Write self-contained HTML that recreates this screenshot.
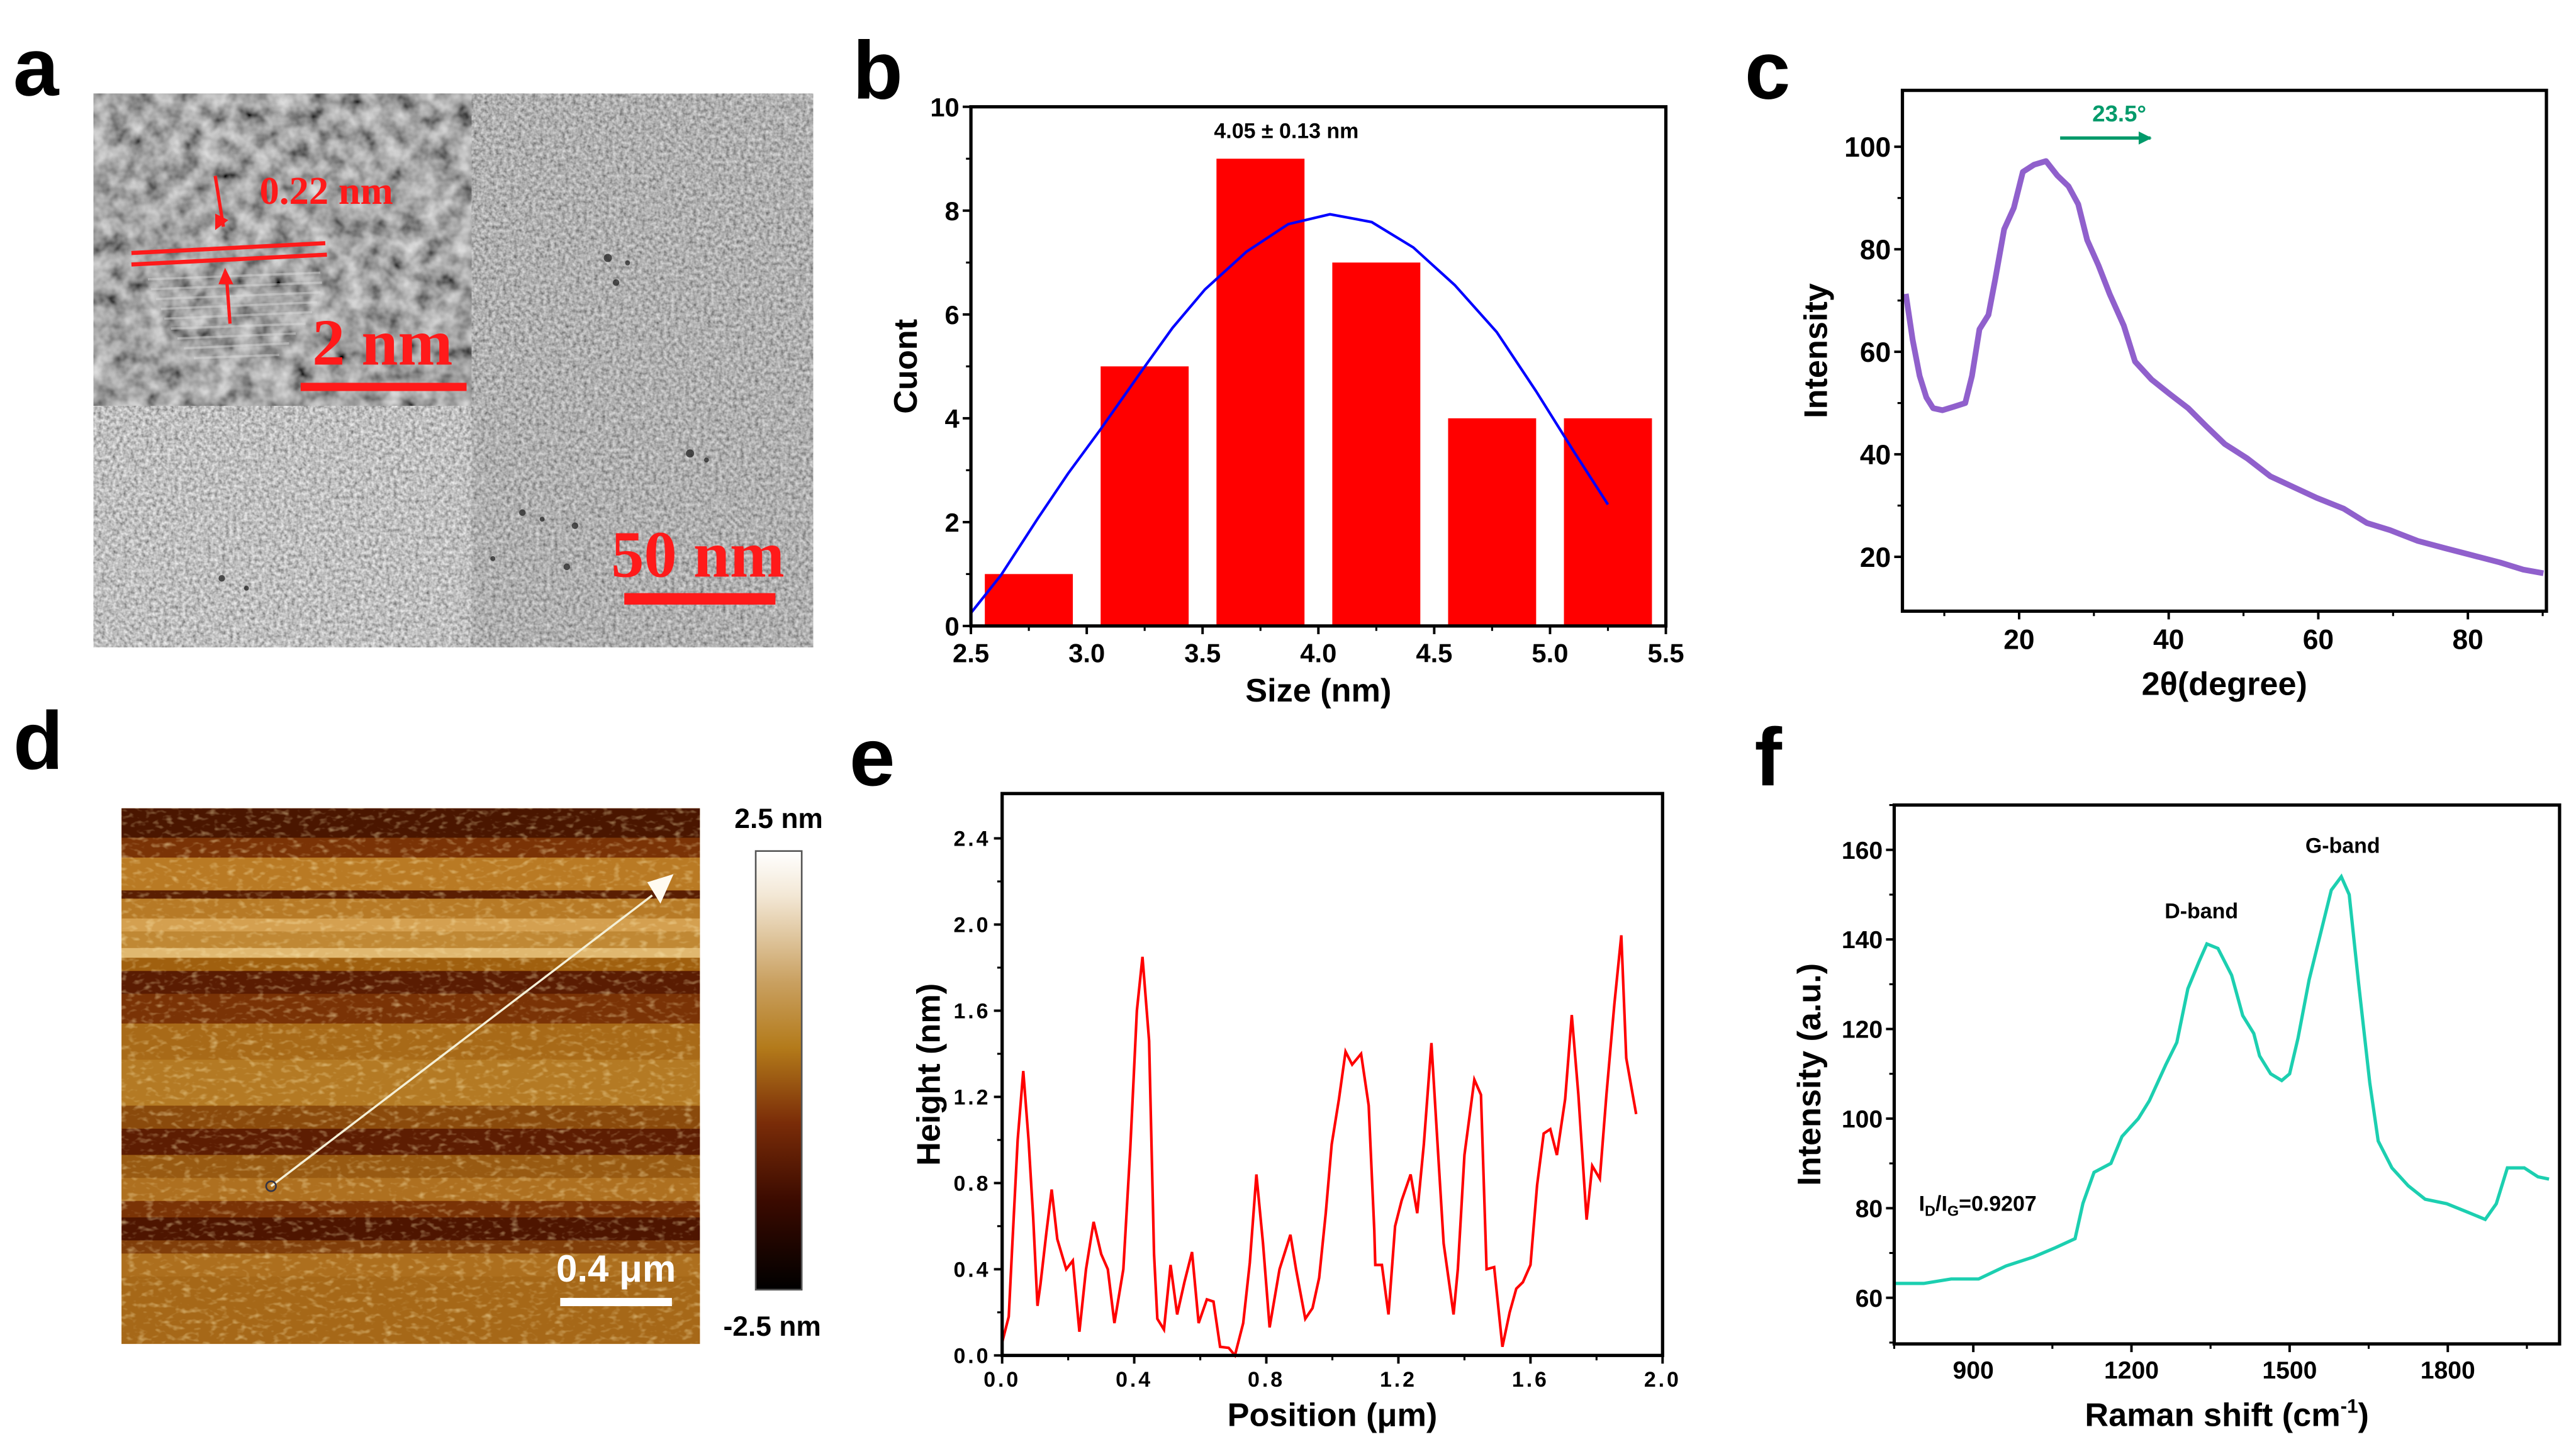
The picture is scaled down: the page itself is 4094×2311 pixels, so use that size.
<!DOCTYPE html>
<html><head><meta charset="utf-8">
<style>
html,body{margin:0;padding:0;background:#fff;}
svg{display:block;}
text{font-family:"Liberation Sans",Arial,sans-serif;font-weight:bold;}
</style></head>
<body>
<svg id="fig" width="4094" height="2311" viewBox="0 0 1568 885" preserveAspectRatio="none" xmlns="http://www.w3.org/2000/svg">
<defs>
  <filter id="temNoise" x="0" y="0" width="100%" height="100%">
    <feTurbulence type="fractalNoise" baseFrequency="0.45" numOctaves="2" seed="3"/>
    <feColorMatrix type="matrix" values="0.9 0 0 0 0.07  0.9 0 0 0 0.07  0.9 0 0 0 0.07  0 0 0 0 1"/>
  </filter>
  <filter id="insetNoise" x="0" y="0" width="100%" height="100%">
    <feTurbulence type="fractalNoise" baseFrequency="0.09" numOctaves="3" seed="7"/>
    <feColorMatrix type="matrix" values="0.95 0 0 0 -0.1  0.95 0 0 0 -0.1  0.95 0 0 0 -0.1  0 0 0 0 1"/>
  </filter>
  <filter id="afmNoise" x="0" y="0" width="100%" height="100%">
    <feTurbulence type="fractalNoise" baseFrequency="0.18 0.3" numOctaves="2" seed="11"/>
    <feColorMatrix type="matrix" values="0 0 0 0 0.97  0 0 0 0 0.82  0 0 0 0 0.45  1.3 0 0 0 -0.68"/>
  </filter>
  <linearGradient id="cbar" x1="0" y1="0" x2="0" y2="1">
    <stop offset="0" stop-color="#ffffff"/>
    <stop offset="0.1" stop-color="#f3e8d6"/>
    <stop offset="0.3" stop-color="#c9a060"/>
    <stop offset="0.45" stop-color="#b37a1a"/>
    <stop offset="0.62" stop-color="#7a2c08"/>
    <stop offset="0.8" stop-color="#3a0a00"/>
    <stop offset="1" stop-color="#000000"/>
  </linearGradient>
  <marker id="garrow" viewBox="0 0 10 10" refX="9" refY="5" markerWidth="5" markerHeight="4" orient="auto"><path d="M0,0 L10,5 L0,10 z" fill="#009a6a"/></marker>
</defs>

<text x="8" y="58" font-size="50">a</text>
<text x="519" y="60" font-size="50">b</text>
<text x="1062" y="60" font-size="50">c</text>
<text x="8" y="468" font-size="50">d</text>
<text x="517" y="478" font-size="50">e</text>
<text x="1068" y="478" font-size="50">f</text>

<g>
  <rect x="57" y="57" width="438" height="337" fill="#a4a4a4" filter="url(#temNoise)"/>
  <rect x="287" y="57" width="208" height="337" fill="#000" opacity="0.08"/>
  <g fill="#222" opacity="0.75">
    <circle cx="370" cy="157" r="2.5"/><circle cx="375" cy="172" r="2"/><circle cx="382" cy="160" r="1.5"/>
    <circle cx="420" cy="276" r="2.5"/><circle cx="430" cy="280" r="1.5"/><circle cx="318" cy="312" r="2"/>
    <circle cx="330" cy="316" r="1.5"/><circle cx="350" cy="320" r="2"/><circle cx="345" cy="345" r="2"/>
    <circle cx="135" cy="352" r="2"/><circle cx="150" cy="358" r="1.5"/><circle cx="300" cy="340" r="1.5"/>
  </g>
  <g>
    <rect x="57" y="57" width="230" height="190" fill="#777" filter="url(#insetNoise)"/>
    <g stroke="#e0e0e0" stroke-width="1.4" opacity="0.4">
      <line x1="90" y1="170" x2="195" y2="166"/><line x1="92" y1="176" x2="196" y2="172"/>
      <line x1="95" y1="182" x2="195" y2="178"/><line x1="98" y1="188" x2="193" y2="184"/>
      <line x1="100" y1="194" x2="190" y2="190"/><line x1="104" y1="200" x2="186" y2="197"/>
      <line x1="108" y1="206" x2="180" y2="203"/><line x1="112" y1="212" x2="176" y2="209"/>
      <line x1="118" y1="218" x2="170" y2="216"/>
    </g>
  </g>
  <g stroke="#ff1a1a" fill="#ff1a1a">
    <line x1="80" y1="154" x2="198" y2="148" stroke-width="2.5"/>
    <line x1="80" y1="161" x2="199" y2="155" stroke-width="2.5"/>
    <line x1="131" y1="107" x2="136" y2="138" stroke-width="2"/>
    <path d="M131,140 L139,134 L131,130 z" stroke="none"/>
    <line x1="140" y1="197" x2="138" y2="170" stroke-width="2"/>
    <path d="M137,163 L133,173 L142,173 z" stroke="none"/>
    <rect x="183" y="233" width="101" height="5" stroke="none"/>
    <rect x="380" y="361" width="92" height="7" stroke="none"/>
  </g>
  <text x="158" y="124" font-size="24" fill="#ff1a1a" style="font-family:'Liberation Serif',serif">0.22 nm</text>
  <text x="190" y="222" font-size="40" fill="#ff1a1a" style="font-family:'Liberation Serif',serif">2 nm</text>
  <text x="372" y="351" font-size="40" fill="#ff1a1a" style="font-family:'Liberation Serif',serif">50 nm</text>
</g>

<g>
  <rect x="74" y="492" width="352" height="326" fill="#a8620f"/>
  <g id="afmBands"></g>
  <rect x="74" y="492" width="352" height="326" fill="#000" filter="url(#afmNoise)"/>
  <line x1="165" y1="722" x2="397" y2="545" stroke="#f4f0d8" stroke-width="1.3"/>
  <circle cx="165" cy="722" r="3" fill="none" stroke="#334" stroke-width="1"/>
  <path d="M394,537 L410,532 L402,550 z" fill="#fffaf0"/>
  <rect x="341" y="790" width="68" height="5" fill="#fff"/>
  <text x="375" y="780" font-size="23" fill="#fff" text-anchor="middle">0.4 μm</text>
  <rect x="460" y="518" width="28" height="267" fill="url(#cbar)" stroke="#555" stroke-width="1"/>
  <text x="474" y="504" font-size="17" text-anchor="middle">2.5 nm</text>
  <text x="470" y="813" font-size="17" text-anchor="middle">-2.5 nm</text>
</g>

<g id="chartB"></g>
<g id="chartC"></g>
<g id="chartE"></g>
<g id="chartF"></g>
</svg>

<script>
const binCenters = [2.75, 3.25, 3.75, 4.25, 4.75, 5.25];
const binCounts = [1, 5, 9, 7, 4, 4];
const fitX = [2.5,2.63,2.79,2.92,3.06,3.24,3.37,3.51,3.69,3.87,4.05,4.23,4.41,4.59,4.77,4.94,5.1,5.25];
const fitY = [0.25,0.98,2.08,2.94,3.79,4.93,5.74,6.48,7.21,7.74,7.93,7.78,7.29,6.56,5.66,4.52,3.38,2.34];
const bXTicks = [2.5, 3.0, 3.5, 4.0, 4.5, 5.0, 5.5];
const bYTicks = [0, 2, 4, 6, 8, 10];

const xrdAngle = [4.85,5.77,6.7,7.6,8.5,9.75,11.3,12.8,13.7,14.7,15.9,16.8,18,19.3,20.5,22,23.6,25.1,26.6,27.9,29.1,30.6,32.1,34,35.5,37.7,40.1,42.6,45,47.5,50.5,53.6,56.7,59.8,63.4,66.5,69.6,73.3,76.9,80.6,84.3,87.4,90.1];
const xrdIntensity = [71.3,62.3,55.3,51.1,49,48.6,49.3,50,55.3,64.4,67.2,74.1,83.9,88.1,95.1,96.5,97.2,94.4,92.3,88.8,81.8,76.9,71.3,65.1,58.1,54.6,51.8,49,45.5,42,39.2,35.7,33.6,31.5,29.4,26.6,25.2,23.1,21.7,20.3,18.9,17.5,16.8];
const cXTicks = [20, 40, 60, 80];
const cYTicks = [20, 40, 60, 80, 100];

const posUm = [0,0.02,0.03,0.047,0.064,0.08,0.094,0.107,0.116,0.134,0.15,0.167,0.194,0.214,0.234,0.254,0.277,0.3,0.32,0.34,0.367,0.388,0.408,0.425,0.445,0.46,0.47,0.49,0.51,0.53,0.552,0.575,0.595,0.62,0.64,0.66,0.686,0.705,0.73,0.75,0.77,0.79,0.81,0.84,0.873,0.89,0.918,0.94,0.96,0.98,0.998,1.02,1.04,1.06,1.087,1.11,1.127,1.13,1.15,1.17,1.19,1.21,1.237,1.257,1.277,1.3,1.315,1.337,1.367,1.38,1.4,1.43,1.45,1.467,1.49,1.515,1.537,1.557,1.577,1.6,1.62,1.64,1.66,1.68,1.705,1.725,1.745,1.77,1.787,1.81,1.83,1.854,1.875,1.89,1.92];
const heightNm = [0.06,0.18,0.49,1.0,1.32,1.0,0.64,0.23,0.33,0.57,0.77,0.54,0.40,0.44,0.11,0.40,0.62,0.47,0.40,0.15,0.40,0.96,1.60,1.85,1.46,0.47,0.17,0.12,0.42,0.19,0.34,0.48,0.15,0.26,0.25,0.04,0.035,0.0,0.15,0.43,0.84,0.52,0.13,0.40,0.56,0.40,0.17,0.22,0.36,0.66,0.98,1.19,1.41,1.35,1.40,1.16,0.58,0.42,0.42,0.19,0.60,0.72,0.84,0.66,0.98,1.45,1.07,0.52,0.19,0.40,0.93,1.28,1.21,0.40,0.41,0.04,0.20,0.31,0.34,0.42,0.79,1.03,1.05,0.93,1.19,1.58,1.21,0.63,0.88,0.82,1.21,1.63,1.95,1.38,1.12];
const eXTicks = [0.0, 0.4, 0.8, 1.2, 1.6, 2.0];
const eYTicks = [0.0, 0.4, 0.8, 1.2, 1.6, 2.0, 2.4];

const ramanShift = [753,806,858,910,962,1014,1056,1093,1108,1129,1161,1182,1213,1234,1265,1286,1307,1328,1343,1364,1390,1411,1432,1443,1464,1485,1500,1516,1537,1558,1579,1598,1613,1631,1652,1668,1694,1725,1757,1798,1840,1871,1892,1913,1945,1971,1992];
const ramanIntensity = [63.2,63.2,64.2,64.2,67.1,69.1,71.2,73.2,81.1,88,90,96,100,104,112,117,129,135,139,138,132,123,119,114,110,108.5,110,118,131,141,151,154,150,130,108,95,89,85,82,81,79,77.5,81,89,89,87,86.5];
const fXTicks = [900, 1200, 1500, 1800];
const fYTicks = [60, 80, 100, 120, 140, 160];

const NS = "http://www.w3.org/2000/svg";
function mk(parent, tag, attrs, txt) {
  const e = document.createElementNS(NS, tag);
  for (const k in attrs) e.setAttribute(k, attrs[k]);
  if (txt !== undefined) e.textContent = txt;
  parent.appendChild(e);
  return e;
}
function scale(d0, d1, r0, r1) { return v => r0 + (v - d0) * (r1 - r0) / (d1 - d0); }

function axes(g, box, xs, ys, xTicks, yTicks, xMinor, yMinor, fmtX, fmtY, fs, xlab, ylab, xlabY, ylabX, wide) {
  const fr = mk(g, 'rect', {x: box.x0, y: box.y0, width: box.x1 - box.x0, height: box.y1 - box.y0, fill: 'none', stroke: '#000', 'stroke-width': 2});
  
  
  const ls = wide ? '1.5' : '0';
  xTicks.forEach(t => {
    const x = xs(t);
    mk(g, 'line', {x1: x, y1: box.y1, x2: x, y2: box.y1 + 5, stroke: '#000', 'stroke-width': 1.5});
    const tl = mk(g, 'text', {x: x, y: box.y1 + fs + 6, 'font-size': fs, 'text-anchor': 'middle', 'letter-spacing': ls}, fmtX(t));
    
    
  });
  xMinor.forEach(t => { const x = xs(t); mk(g, 'line', {x1: x, y1: box.y1, x2: x, y2: box.y1 + 3, stroke: '#000', 'stroke-width': 1.2}); });
  yTicks.forEach(t => {
    const y = ys(t);
    mk(g, 'line', {x1: box.x0 - 5, y1: y, x2: box.x0, y2: y, stroke: '#000', 'stroke-width': 1.5});
    const tl = mk(g, 'text', {x: box.x0 - 7, y: y + fs * 0.36, 'font-size': fs, 'text-anchor': 'end', 'letter-spacing': ls}, fmtY(t));
    
    
  });
  yMinor.forEach(t => { const y = ys(t); mk(g, 'line', {x1: box.x0 - 3, y1: y, x2: box.x0, y2: y, stroke: '#000', 'stroke-width': 1.2}); });
  const xt = mk(g, 'text', {x: (box.x0 + box.x1) / 2, y: xlabY, 'font-size': 20, 'text-anchor': 'middle'});
  xt.innerHTML = xlab;
  
  
  const cy = (box.y0 + box.y1) / 2;
  const yt = mk(g, 'text', {x: ylabX, y: cy, 'font-size': 20, 'text-anchor': 'middle', transform: `rotate(-90 ${ylabX} ${cy})`}, ylab);
  
  
}
function linePath(xsArr, ysArr, xs, ys) {
  return xsArr.map((v, i) => (i ? 'L' : 'M') + xs(v).toFixed(2) + ',' + ys(ysArr[i]).toFixed(2)).join(' ');
}

(function () {
  const g = document.getElementById('afmBands');
  const bands = [[492, 18, '#4a1600'], [510, 12, '#7a3306'], [522, 20, '#b97a24'], [542, 5, '#5a1e02'], [547, 12, '#b77a26'], [559, 8, '#d4a050'], [567, 10, '#c08834'], [577, 6, '#e0b870'], [583, 8, '#a0600f'], [591, 14, '#5a1c02'], [605, 18, '#7a3306'], [623, 22, '#a86a18'], [645, 28, '#b47a24'], [673, 14, '#8a4a0c'], [687, 16, '#5d1d02'], [703, 14, '#985a12'], [717, 14, '#ae7020'], [731, 10, '#7a3306'], [741, 14, '#4e1500'], [755, 8, '#803e0a'], [763, 14, '#ad6f1e'], [777, 41, '#a66818']];
  bands.forEach(b => {
    const r = mk(g, 'rect', {x: 74, y: b[0], width: 352, height: b[1], fill: b[2]});
    
    
  });
})();

(function () {
  const g = document.getElementById('chartB');
  const box = {x0: 591, x1: 1014, y0: 65, y1: 381};
  const xs = scale(2.5, 5.5, box.x0, box.x1), ys = scale(0, 10, box.y1, box.y0);
  binCenters.forEach((c, i) => {
    const r = mk(g, 'rect', {x: xs(c - 0.19), y: ys(binCounts[i]), width: xs(c + 0.19) - xs(c - 0.19), height: ys(0) - ys(binCounts[i]), fill: '#ff0000'});
    
    
  });
  const p = mk(g, 'path', {d: linePath(fitX, fitY, xs, ys), fill: 'none', stroke: '#0000ff', 'stroke-width': 1.6, 'stroke-linejoin': 'round'});
  
  
  axes(g, box, xs, ys, bXTicks, bYTicks, [2.75, 3.25, 3.75, 4.25, 4.75, 5.25], [1, 3, 5, 7, 9], t => t.toFixed(1), t => String(t), 16, 'Size (nm)', 'Cuont', 427, 558, false);
  const a = mk(g, 'text', {x: 783, y: 84, 'font-size': 13, 'text-anchor': 'middle'}, '4.05 ± 0.13 nm');
  
  
})();

(function () {
  const g = document.getElementById('chartC');
  const box = {x0: 1158, x1: 1550, y0: 55, y1: 372};
  const xs = scale(4.4, 90.5, box.x0, box.x1), ys = scale(9.4, 111, box.y1, box.y0);
  const p = mk(g, 'path', {d: linePath(xrdAngle, xrdIntensity, xs, ys), fill: 'none', stroke: '#9060cc', 'stroke-width': 3.5, 'stroke-linejoin': 'round'});
  
  
  axes(g, box, xs, ys, cXTicks, cYTicks, [10, 30, 50, 70, 90], [30, 50, 70, 90], t => String(t), t => String(t), 17, '2θ(degree)', 'Intensity', 423, 1112, false);
  mk(g, 'line', {x1: 1254, y1: 84, x2: 1309, y2: 84, stroke: '#009a6a', 'stroke-width': 2, 'marker-end': 'url(#garrow)'});
  const a = mk(g, 'text', {x: 1290, y: 74, 'font-size': 14, 'text-anchor': 'middle', fill: '#009a6a'}, '23.5°');
  
  
})();

(function () {
  const g = document.getElementById('chartE');
  const box = {x0: 610, x1: 1012, y0: 483, y1: 825};
  const xs = scale(0, 2.0, box.x0, box.x1), ys = scale(0, 2.608, box.y1, box.y0);
  const p = mk(g, 'path', {d: linePath(posUm, heightNm, xs, ys), fill: 'none', stroke: '#ff0000', 'stroke-width': 1.6});
  
  
  axes(g, box, xs, ys, eXTicks, eYTicks, [0.2, 0.6, 1.0, 1.4, 1.8], [0.2, 0.6, 1.0, 1.4, 1.8, 2.2], t => t.toFixed(1), t => t.toFixed(1), 13, 'Position (μm)', 'Height (nm)', 868, 572, true);
})();

(function () {
  const g = document.getElementById('chartF');
  const box = {x0: 1153, x1: 1558, y0: 490, y1: 818};
  const xs = scale(750, 2012, box.x0, box.x1), ys = scale(49.7, 170, box.y1, box.y0);
  const p = mk(g, 'path', {d: linePath(ramanShift, ramanIntensity, xs, ys), fill: 'none', stroke: '#1ccfb0', 'stroke-width': 2});
  
  
  axes(g, box, xs, ys, fXTicks, fYTicks, [750, 1050, 1350, 1650, 1950], [50, 70, 90, 110, 130, 150, 170], t => String(t), t => String(t), 15, 'Raman shift (cm<tspan dy="-8" font-size="12">-1</tspan><tspan dy="8">)</tspan>', 'Intensity (a.u.)', 868, 1108, false);
  const d = mk(g, 'text', {x: 1340, y: 559, 'font-size': 13, 'text-anchor': 'middle'}, 'D-band');
  
  
  const gb = mk(g, 'text', {x: 1426, y: 519, 'font-size': 13, 'text-anchor': 'middle'}, 'G-band');
  
  
  const r = mk(g, 'text', {x: 1168, y: 737, 'font-size': 13});
  r.innerHTML = 'I<tspan dy="3" font-size="9">D</tspan><tspan dy="-3">/I</tspan><tspan dy="3" font-size="9">G</tspan><tspan dy="-3">=0.9207</tspan>';
  
  
})();
</script>
</body></html>
